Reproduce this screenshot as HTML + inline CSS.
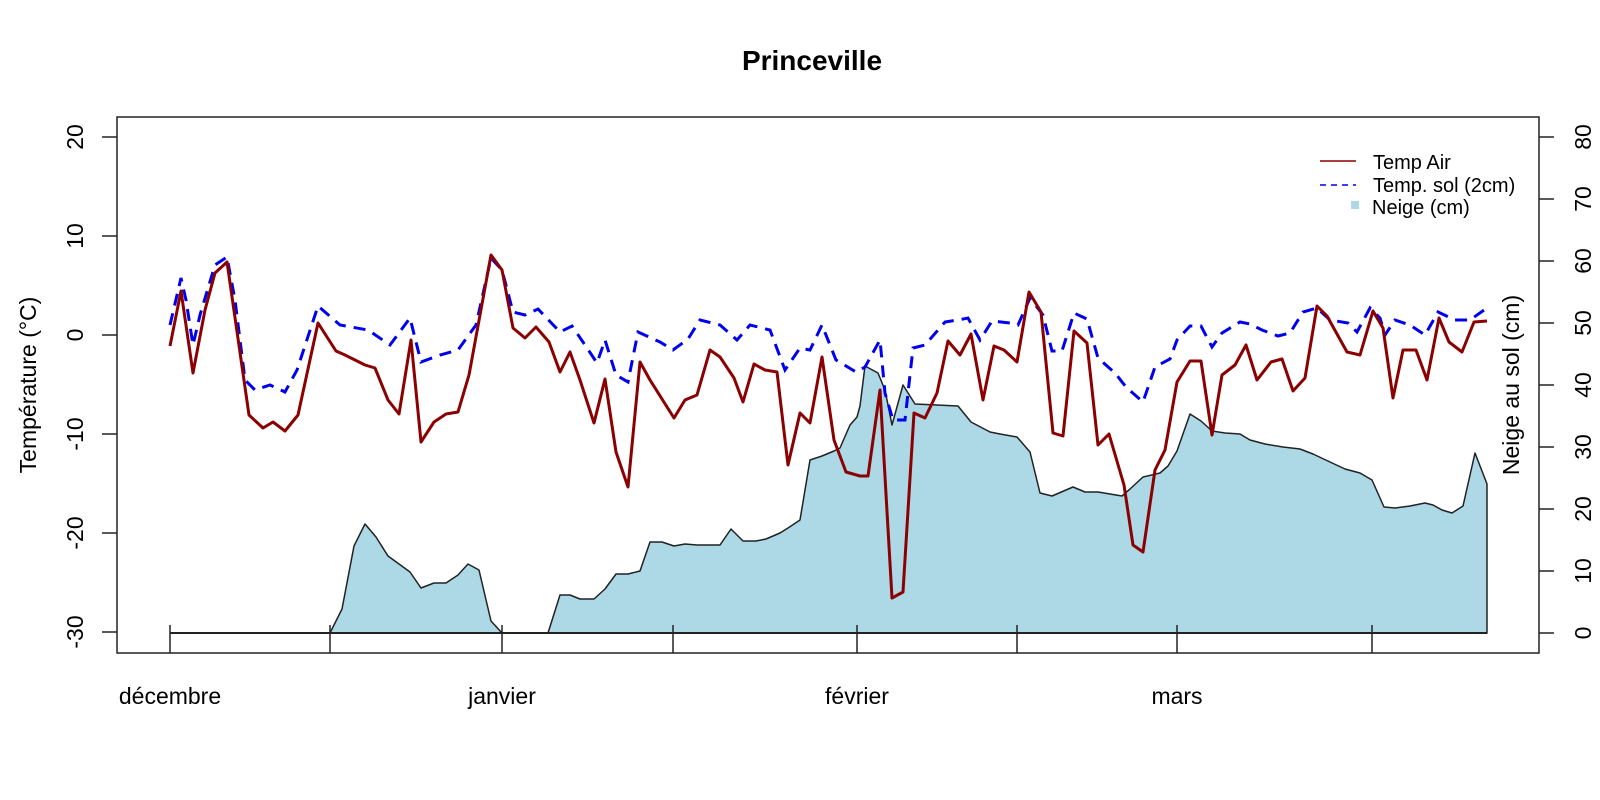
<!DOCTYPE html>
<html><head><meta charset="utf-8"><style>body{margin:0;background:#fff}svg{display:block}text{font-family:"Liberation Sans",Arial,sans-serif;fill:#000}</style></head><body>
<svg width="1600" height="800" viewBox="0 0 1600 800" xmlns="http://www.w3.org/2000/svg">
<text x="812" y="70" font-size="28" font-weight="bold" text-anchor="middle">Princeville</text>
<polygon fill="#add8e6" stroke="#222" stroke-width="1.5" stroke-linejoin="round" points="330,633 342,609 354,546 365,524 376,537 388,556 410,572 421,588 434,583 446,583 458,575 468,564 479,570 491,621 502,633 548,633 560,595 570,595 580,599 594,599 605,589 616,574 628,574 640,571 650,542 662,542 674,546 685,544 697,545 720,545 731,529 743,541 756,541 766,539 780,533 788,528 800,520 810,460 822,456 834,451 840,448 850,425 857,417 860,406 865,366 878,373 885,390 892,425 903,385 915,404 958,406 971,422 990,432 1000,434 1017,437 1030,452 1040,493 1052,496 1073,487 1085,492 1098,492 1122,496 1130,489 1143,477 1160,473 1168,466 1177,451 1190,414 1201,421 1212,431 1225,433 1240,434 1250,440 1265,444 1283,447 1300,449 1313,454 1330,462 1345,469 1360,473 1372,480 1384,507 1395,508 1410,506 1425,503 1433,505 1442,510 1452,513 1463,506 1475,453 1487,484 1487,633"/>
<line x1="170" y1="633" x2="1487" y2="633" stroke="#222" stroke-width="2"/>
<g stroke="#222" stroke-width="1.5"><line x1="170" y1="625" x2="170" y2="653"/><line x1="330" y1="625" x2="330" y2="653"/><line x1="502" y1="625" x2="502" y2="653"/><line x1="673" y1="625" x2="673" y2="653"/><line x1="857" y1="625" x2="857" y2="653"/><line x1="1017" y1="625" x2="1017" y2="653"/><line x1="1177" y1="625" x2="1177" y2="653"/><line x1="1372" y1="625" x2="1372" y2="653"/></g>
<polyline fill="none" stroke="#0000ee" stroke-width="3" stroke-dasharray="12,8" points="170,325 181,278 186,300 193,345 200,315 215,265 227,257 235,300 245,380 255,390 270,385 285,392 297,370 318,306 340,325 368,330 390,345 410,318 421,362 440,355 458,350 476,325 491,258 502,270 513,312 525,315 538,309 560,332 572,326 585,345 597,363 605,340 616,375 628,382 638,332 660,342 673,350 688,339 700,320 720,325 737,340 750,325 770,330 785,370 800,348 810,350 822,325 836,360 856,372 865,367 880,340 885,393 893,420 905,420 913,348 925,345 945,322 958,320 968,318 980,340 992,321 1010,323 1018,325 1030,298 1043,315 1052,351 1062,351 1074,313 1087,319 1098,358 1115,373 1126,387 1143,402 1155,367 1170,359 1177,340 1190,326 1201,326 1212,347 1222,333 1240,322 1250,324 1262,330 1278,336 1290,333 1303,312 1317,308 1330,320 1348,323 1357,332 1370,308 1380,318 1385,335 1395,320 1410,325 1425,335 1438,312 1455,320 1470,320 1487,308"/>
<polyline fill="none" stroke="#8b0000" stroke-width="3" stroke-linejoin="round" points="170,346 181,291 193,373 205,310 215,273 227,262 249,415 263,428 273,422 285,431 298,415 318,323 336,351 345,355 365,365 375,368 388,400 399,414 411,340 421,442 434,422 446,414 458,412 469,375 491,255 502,270 513,328 525,338 536,327 549,342 560,372 570,352 580,380 594,423 605,379 616,452 628,487 640,362 650,380 674,418 685,400 697,395 710,350 720,357 734,378 743,402 754,364 765,370 777,372 788,465 800,413 810,423 822,357 834,440 846,472 860,476 868,476 880,390 892,598 903,592 914,413 925,418 937,393 948,341 960,355 971,334 983,400 994,346 1004,350 1017,362 1029,292 1041,312 1053,433 1063,436 1074,331 1087,343 1098,445 1109,434 1124,485 1133,545 1143,552 1155,470 1165,450 1177,382 1190,361 1201,361 1212,435 1222,375 1235,365 1246,345 1257,380 1271,362 1282,359 1293,391 1305,378 1317,306 1327,316 1347,352 1360,355 1373,311 1383,328 1393,398 1403,350 1416,350 1427,380 1439,318 1449,342 1462,352 1474,322 1487,321"/>
<rect x="117" y="117" width="1422" height="536" fill="none" stroke="#222" stroke-width="1.5"/>
<g stroke="#222" stroke-width="1.5"><line x1="117" y1="137" x2="102" y2="137"/><line x1="117" y1="236" x2="102" y2="236"/><line x1="117" y1="335" x2="102" y2="335"/><line x1="117" y1="434" x2="102" y2="434"/><line x1="117" y1="533" x2="102" y2="533"/><line x1="117" y1="632" x2="102" y2="632"/>
<line x1="1539" y1="633" x2="1554" y2="633"/><line x1="1539" y1="571" x2="1554" y2="571"/><line x1="1539" y1="509" x2="1554" y2="509"/><line x1="1539" y1="447" x2="1554" y2="447"/><line x1="1539" y1="385" x2="1554" y2="385"/><line x1="1539" y1="323" x2="1554" y2="323"/><line x1="1539" y1="261" x2="1554" y2="261"/><line x1="1539" y1="199" x2="1554" y2="199"/><line x1="1539" y1="137" x2="1554" y2="137"/></g>
<g font-size="23" text-anchor="middle">
<text transform="translate(83,137) rotate(-90)">20</text><text transform="translate(83,236) rotate(-90)">10</text><text transform="translate(83,335) rotate(-90)">0</text><text transform="translate(83,434) rotate(-90)">-10</text><text transform="translate(83,533) rotate(-90)">-20</text><text transform="translate(83,632) rotate(-90)">-30</text>
<text transform="translate(1591,633) rotate(-90)">0</text><text transform="translate(1591,571) rotate(-90)">10</text><text transform="translate(1591,509) rotate(-90)">20</text><text transform="translate(1591,447) rotate(-90)">30</text><text transform="translate(1591,385) rotate(-90)">40</text><text transform="translate(1591,323) rotate(-90)">50</text><text transform="translate(1591,261) rotate(-90)">60</text><text transform="translate(1591,199) rotate(-90)">70</text><text transform="translate(1591,137) rotate(-90)">80</text>
<text transform="translate(36,385) rotate(-90)">Température (°C)</text>
<text transform="translate(1519,385) rotate(-90)">Neige au sol (cm)</text>
<text x="170" y="704">décembre</text><text x="502" y="704">janvier</text><text x="857" y="704">février</text><text x="1177" y="704">mars</text>
</g>
<line x1="1320" y1="161" x2="1356" y2="161" stroke="#8b0000" stroke-width="1.5"/>
<line x1="1320" y1="185" x2="1356" y2="185" stroke="#0000ee" stroke-width="1.5" stroke-dasharray="6,5"/>
<rect x="1351" y="201" width="8" height="8" fill="#add8e6"/>
<g font-size="20"><text x="1373" y="169">Temp Air</text><text x="1373" y="192">Temp. sol (2cm)</text><text x="1372" y="214">Neige (cm)</text></g>
</svg>
</body></html>
